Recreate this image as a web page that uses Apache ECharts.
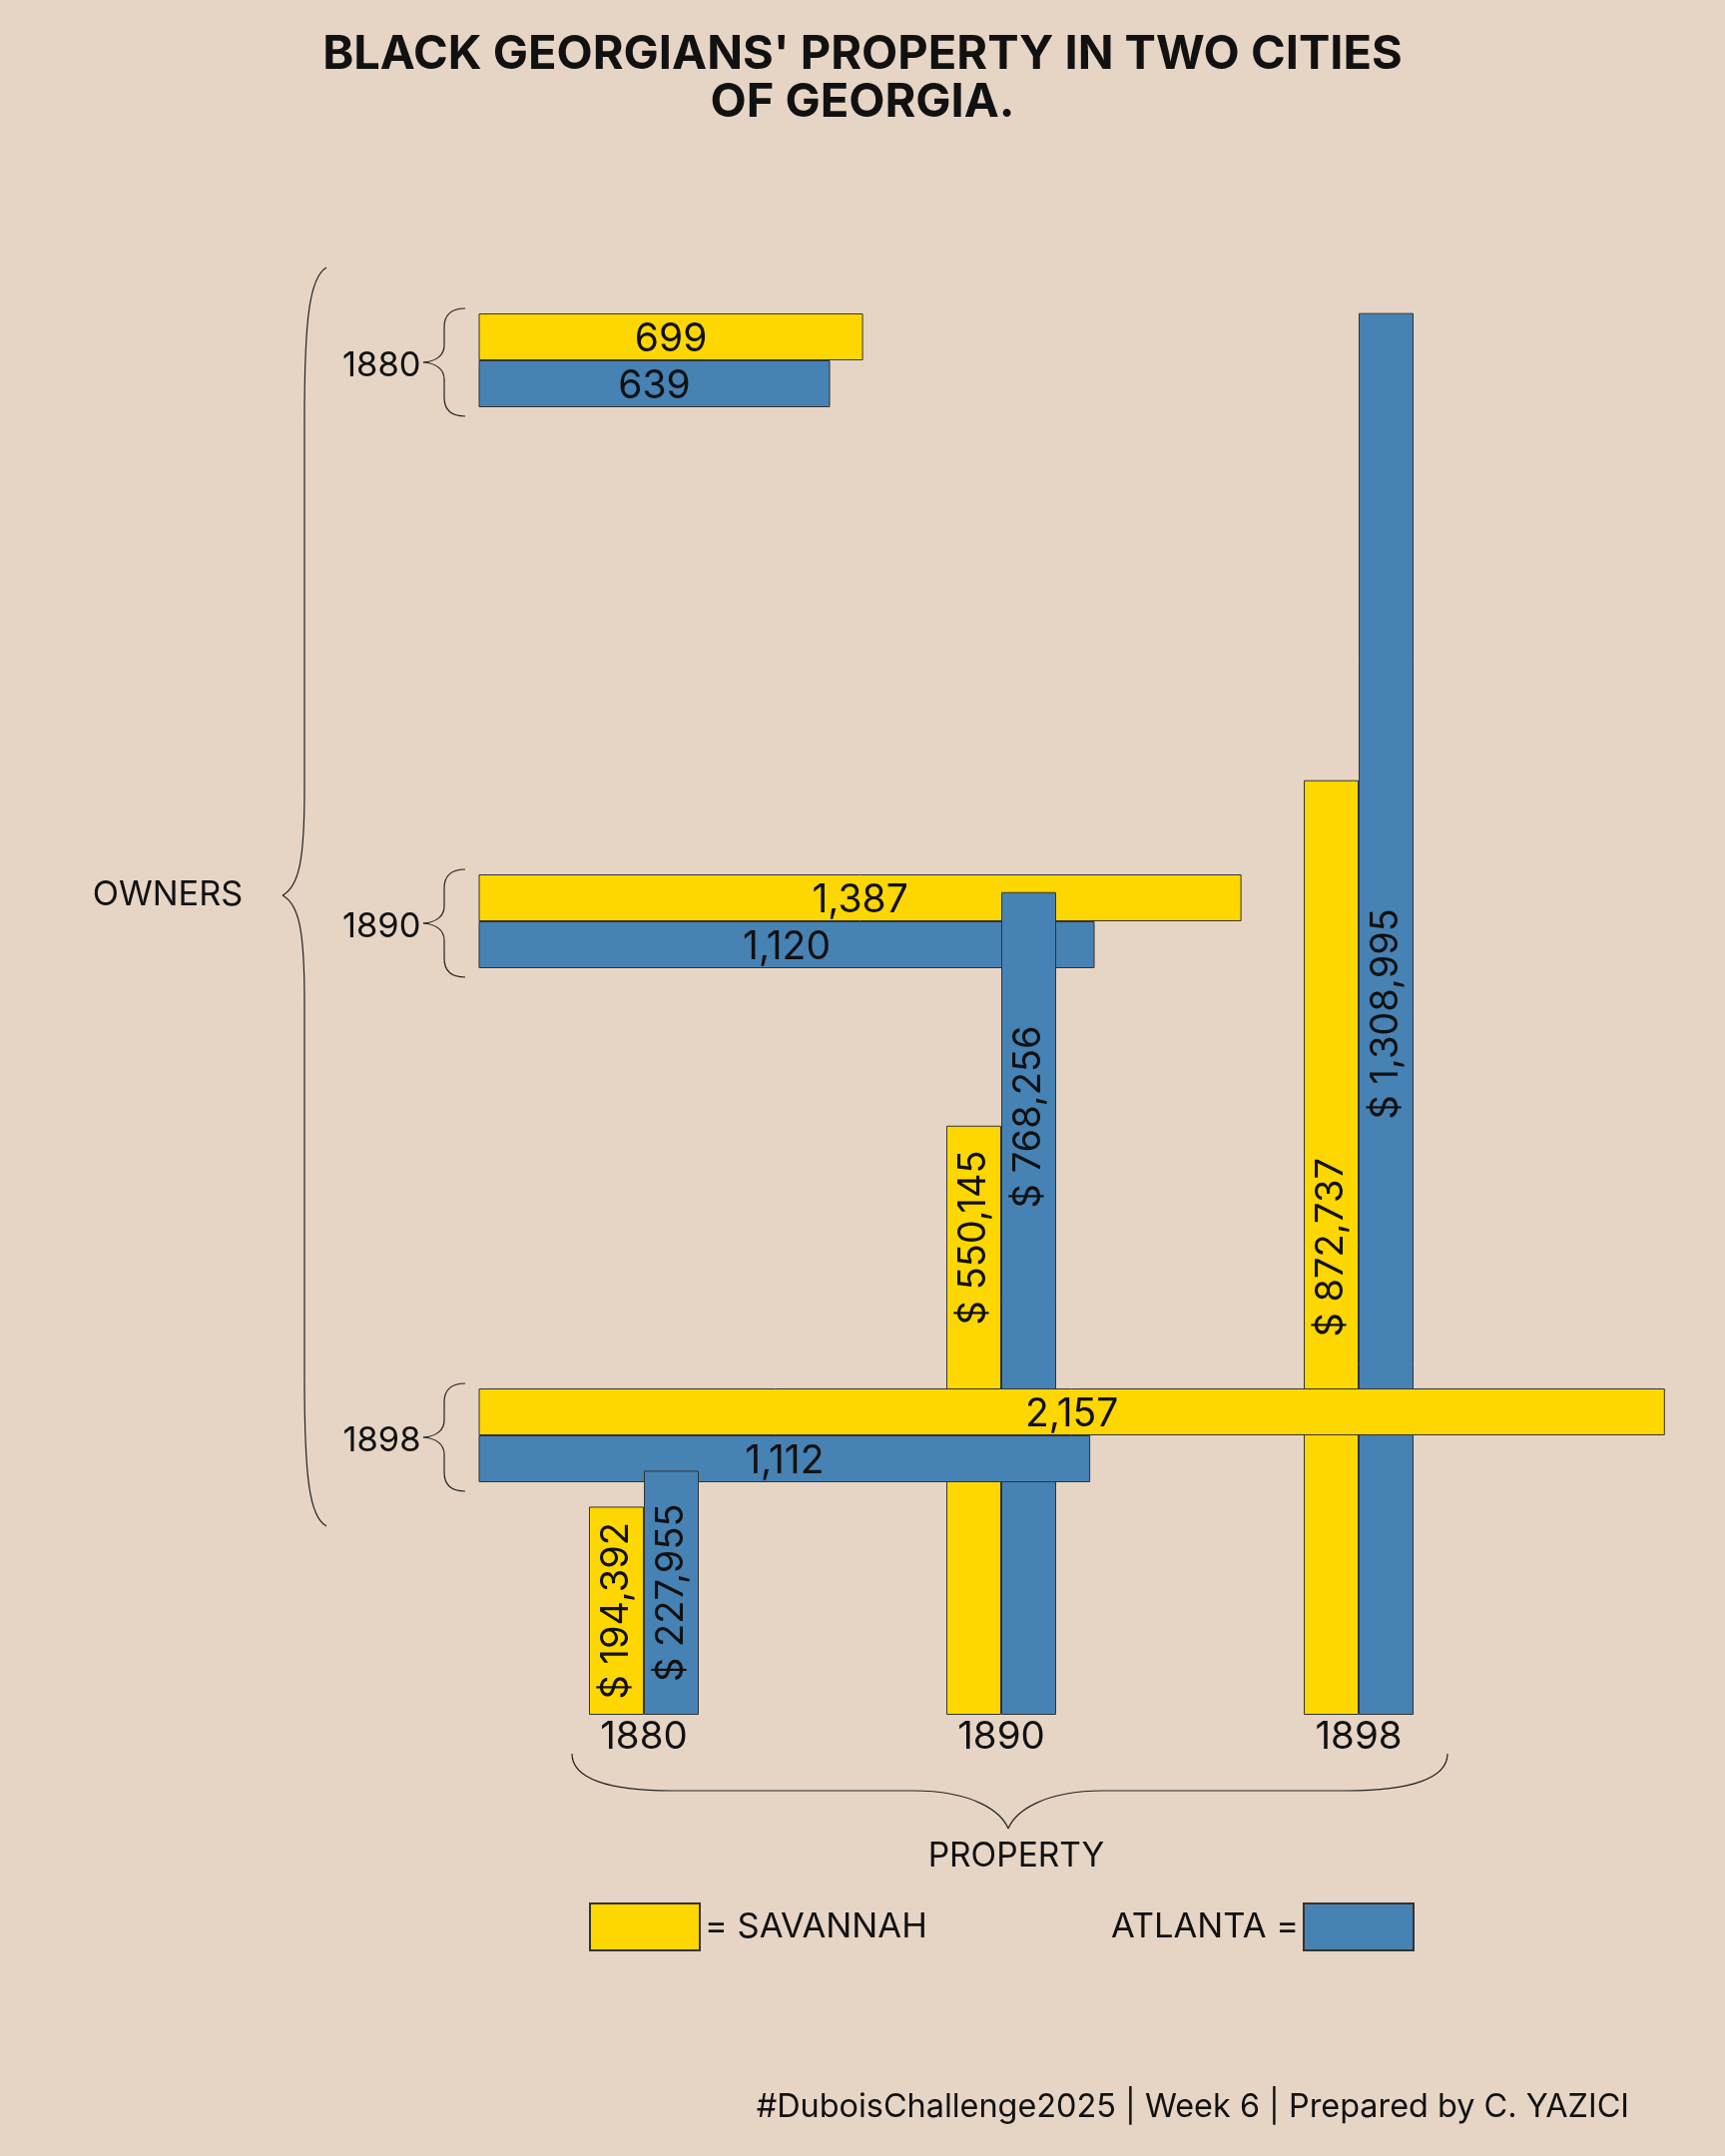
<!DOCTYPE html>
<html><head><meta charset="utf-8">
<script src="https://cdn.jsdelivr.net/npm/echarts@6/dist/echarts.min.js"></script>
<style>html,body{margin:0;padding:0;background:#E6D5C5}#chart{width:1728px;height:2160px}</style>
</head><body><div id="chart"></div>
<script>
// ---------- data ----------
const years = ['1880', '1890', '1898'];
const ownersSavannah = [699, 1387, 2157];
const ownersAtlanta = [639, 1120, 1112];
const propertySavannah = [194392, 550145, 872737];
const propertyAtlanta = [227955, 768256, 1308995];
const titleText = "BLACK GEORGIANS' PROPERTY IN TWO CITIES\nOF GEORGIA.";
const footerText = '#DuboisChallenge2025 | Week 6 | Prepared by C. YAZICI';
const legendSavannah = '= SAVANNAH';
const legendAtlanta = 'ATLANTA =';

// ---------- style ----------
const YELLOW = '#FFD700', BLUE = '#4682B4', BG = '#E6D5C5', INK = '#111111', EDGE = '#333333';
const FONT = 'Inter, "Noto Sans", sans-serif';
const fmt = v => Number(v).toLocaleString('en-US');

const ownerGridTops = [314, 876, 1391];
const grids = ownerGridTops.map(t => ({ left: 479.5, top: t, width: 1212, height: 94 }));
grids.push({ left: 466, top: 216, width: 1074, height: 1502 });

const xAxes = [], yAxes = [], series = [];
ownerGridTops.forEach((t, i) => {
  xAxes.push({ gridIndex: i, type: 'value', min: 0, max: 2200, show: false });
  yAxes.push({
    gridIndex: i, type: 'category', data: [years[i]], inverse: true,
    axisLine: { show: false }, axisTick: { show: false }, splitLine: { show: false },
    axisLabel: { margin: 58, fontSize: 34.5, color: INK, fontFamily: FONT, verticalAlign: 'top', lineHeight: 12 }
  });
  const z = i === 2 ? 4 : 2;
  [['Savannah', ownersSavannah, YELLOW], ['Atlanta', ownersAtlanta, BLUE]].forEach(([name, arr, color]) => {
    series.push({
      type: 'bar', name, xAxisIndex: i, yAxisIndex: i, z, barWidth: 47, barGap: '0%',
      data: [arr[i]],
      itemStyle: { color, borderColor: EDGE, borderWidth: 1 },
      label: { show: true, position: 'inside', formatter: p => fmt(p.value), fontSize: 39, color: INK, fontFamily: FONT, offset: [0, 3] }
    });
  });
});
xAxes.push({
  gridIndex: 3, type: 'category', data: years,
  axisLine: { show: false }, axisTick: { show: false },
  axisLabel: { margin: 3, fontSize: 38.5, color: INK, fontFamily: FONT }
});
yAxes.push({ gridIndex: 3, type: 'value', min: 0, max: 1400000, show: false, splitLine: { show: false } });

// upward shift (px) of the rotated labels of the 1890 property bars
const labelShift = { Savannah: [0, 183, 0], Atlanta: [0, 187, 0] };
function propSeries(name, vals, color, stack, early) {
  return {
    type: 'bar', name, xAxisIndex: 3, yAxisIndex: 3, stack, z: early ? 5 : 3,
    barWidth: 55, barGap: '0%',
    data: vals.map((v, i) => ((i === 0) === early) ? { value: v, label: { offset: [labelShift[name][i], 0] } } : '-'),
    itemStyle: { color, borderColor: EDGE, borderWidth: 1 },
    label: { show: true, position: 'inside', rotate: 90, formatter: p => '$ ' + fmt(p.value), fontSize: 38, color: INK, fontFamily: FONT }
  };
}
series.push(propSeries('Savannah', propertySavannah, YELLOW, 'sav', false));
series.push(propSeries('Savannah', propertySavannah, YELLOW, 'sav', true));
series.push(propSeries('Atlanta', propertyAtlanta, BLUE, 'atl', false));
series.push(propSeries('Atlanta', propertyAtlanta, BLUE, 'atl', true));

// ---------- braces (as bezier / line graphic elements) ----------
const braceStyle = { stroke: '#222', lineWidth: 1.2, fill: null };
function pathToElements(d) {
  const t = d.trim().split(/\s+/);
  const els = [];
  let i = 0, cx = 0, cy = 0, cmd = '';
  while (i < t.length) {
    if (/^[MLC]$/.test(t[i])) { cmd = t[i]; i++; }
    if (cmd === 'M') { cx = +t[i]; cy = +t[i + 1]; i += 2; }
    else if (cmd === 'L') {
      const x = +t[i], y = +t[i + 1]; i += 2;
      els.push({ type: 'line', shape: { x1: cx, y1: cy, x2: x, y2: y }, style: braceStyle });
      cx = x; cy = y;
    } else if (cmd === 'C') {
      const p = t.slice(i, i + 6).map(Number); i += 6;
      els.push({ type: 'bezierCurve', shape: { x1: cx, y1: cy, cpx1: p[0], cpy1: p[1], cpx2: p[2], cpy2: p[3], x2: p[4], y2: p[5] }, style: braceStyle });
      cx = p[4]; cy = p[5];
    } else { i++; }
  }
  return els;
}
function smallBrace(c) {
  const a = c - 54, b = c + 54;
  return `M 466 ${a} C 452 ${a} 445 ${a + 6} 445 ${a + 19} L 445 ${c - 17} C 445 ${c - 7} 437 ${c - 1} 424 ${c} C 437 ${c + 1} 445 ${c + 7} 445 ${c + 17} L 445 ${b - 19} C 445 ${b - 6} 452 ${b} 466 ${b}`;
}
const braces = [
  'M 327 268 C 310 278 305 320 305 420 L 305 790 C 305 860 300 888 283 897 C 300 906 305 934 305 1004 L 305 1380 C 305 1480 310 1520 327 1529',
  smallBrace(363), smallBrace(925), smallBrace(1440),
  'M 573 1757 C 573 1782 610 1794 672 1794 L 915 1794 C 975 1794 1003 1815 1010 1832 C 1017 1815 1045 1794 1105 1794 L 1350 1794 C 1412 1794 1450 1782 1450 1757'
];
const graphics = [];
braces.forEach(d => graphics.push(...pathToElements(d)));
graphics.push(
  { type: 'text', x: 168, y: 897, style: { text: 'OWNERS', fontSize: 34.3, fontFamily: FONT, fill: INK, align: 'center', verticalAlign: 'middle' } },
  { type: 'text', x: 1018, y: 1860, style: { text: 'PROPERTY', fontSize: 33.5, fontFamily: FONT, fill: INK, align: 'center', verticalAlign: 'middle' } },
  { type: 'text', x: 1632, y: 2111, style: { text: footerText, fontSize: 32.4, fontFamily: FONT, fill: INK, align: 'right', verticalAlign: 'middle' } }
);

const chart = echarts.init(document.getElementById('chart'), null, { renderer: 'canvas' });
chart.setOption({
  backgroundColor: BG,
  animation: false,
  title: {
    text: titleText, left: 'center', top: 31, padding: 0,
    textStyle: { fontSize: 47, fontWeight: 'bold', fontFamily: FONT, color: INK, lineHeight: 48 }
  },
  legend: [
    { data: ['Savannah'], left: 590, top: 1906, padding: 0, icon: 'rect', itemWidth: 110, itemHeight: 47,
      selectedMode: false, formatter: () => legendSavannah,
      textStyle: { fontSize: 34.5, fontFamily: FONT, color: INK } },
    { data: ['Atlanta'], right: 311, top: 1906, padding: 0, icon: 'rect', itemWidth: 110, itemHeight: 47, align: 'right',
      selectedMode: false, formatter: () => legendAtlanta,
      textStyle: { fontSize: 34.5, fontFamily: FONT, color: INK } }
  ],
  grid: grids,
  xAxis: xAxes,
  yAxis: yAxes,
  series,
  graphic: graphics
});
</script>
</body></html>
